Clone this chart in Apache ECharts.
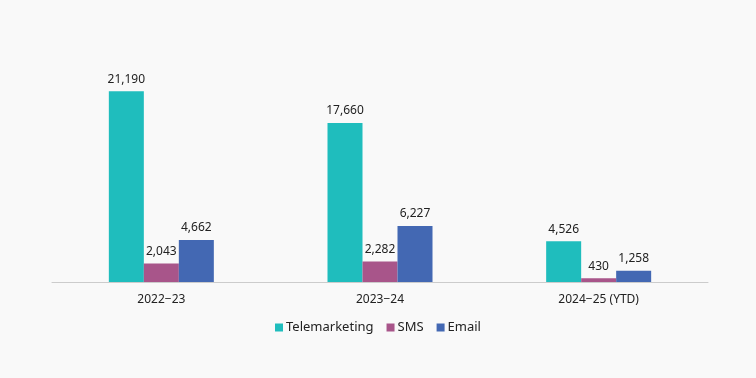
<!DOCTYPE html>
<html><head><meta charset="utf-8">
<script src="https://cdn.jsdelivr.net/npm/echarts@6/dist/echarts.min.js"></script>
<style>html,body{margin:0;padding:0;background:#f9f9f9;}#c{width:756px;height:378px;}</style>
</head><body><div id="c"></div>
<script>
const categories = ['2022\u221223', '2023\u221224', '2024\u221225 (YTD)'];
const seriesNames = ['Telemarketing', 'SMS', 'Email'];
const telemarketing = [21190, 17660, 4526];
const sms = [2043, 2282, 430];
const email = [4662, 6227, 1258];
const colors = ['#1fbdbd', '#a8558a', '#4368b3'];
const values = [telemarketing, sms, email];
const chart = echarts.init(document.getElementById('c'));
const font = "'Noto Sans', sans-serif";
chart.setOption({
  backgroundColor: '#f9f9f9',
  animation: false,
  textStyle: {fontFamily: font},
  grid: {left: 52, right: 48, top: 57, bottom: 96},
  legend: {
    bottom: 39, left: 'center', itemWidth: 8, itemHeight: 8, itemGap: 13,
    icon: 'rect',
    textStyle: {fontFamily: font, fontSize: 13, color: '#222', padding: [0,0,0,-2]},
    data: seriesNames
  },
  xAxis: {
    type: 'category', data: categories,
    axisLine: {lineStyle: {color: '#cccccc'}},
    axisTick: {show: false},
    axisLabel: {fontFamily: font, fontSize: 12, color: '#222', margin: 12}
  },
  yAxis: {type: 'value', min: 0, max: 25000, show: false, splitLine: {show: false}},
  series: seriesNames.map((n, i) => ({
    name: n, type: 'bar', data: values[i], barWidth: 35, barGap: '0%',
    itemStyle: {color: colors[i]},
    label: {show: true, position: 'top', distance: 6, fontFamily: font, fontSize: 12, color: '#222',
      formatter: p => p.value.toLocaleString('en-US')}
  }))
});
</script></body></html>
